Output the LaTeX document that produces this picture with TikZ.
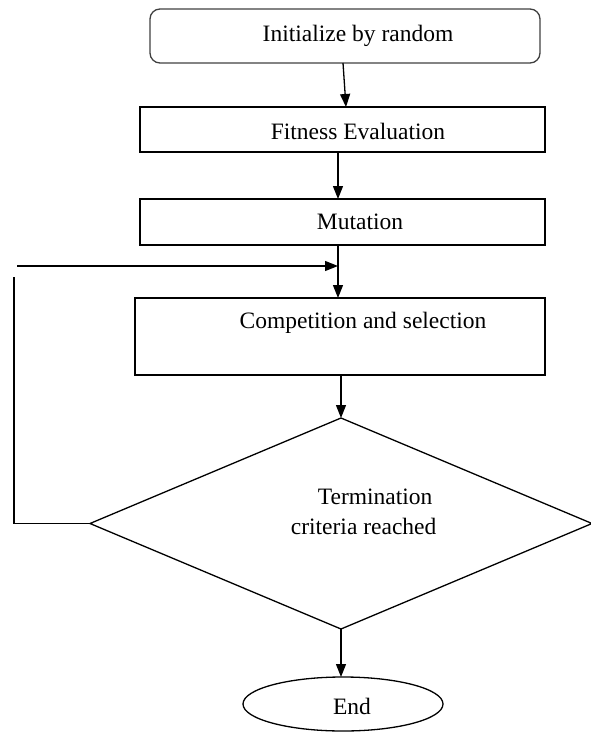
\documentclass[tikz,border=0pt]{standalone}
\usepackage{fontspec}
\setmainfont{Liberation Serif}
\usetikzlibrary{arrows.meta,shapes.geometric}
\begin{document}
\begin{tikzpicture}[x=1pt,y=-1pt,
  line width=1.3pt,
  font=\fontsize{23.5}{27}\selectfont,
  arr/.style={-{Triangle[length=13pt,width=10pt]}},
  shp/.style={draw,inner sep=0pt,outer sep=0pt},
  boxshape/.style={shp,rectangle},
  lbl/.style={inner sep=0pt}]
\useasboundingbox (0,0) rectangle (590,733);
% shapes
\node[boxshape,rounded corners=10pt,draw=black!75,minimum width=390pt,minimum height=54pt] (init) at (345,36) {};
\node[boxshape,minimum width=405pt,minimum height=45pt] (fit) at (342.5,129.5) {};
\node[boxshape,minimum width=405pt,minimum height=46pt] (mut) at (342.5,222) {};
\node[boxshape,minimum width=410pt,minimum height=77pt] (comp) at (340,336.5) {};
\node[shp,diamond,minimum width=502pt,minimum height=211pt] (dia) at (341,523.5) {};
\node[shp,ellipse,minimum width=200pt,minimum height=54pt] (end) at (343,704) {};
% labels
\node[lbl] (tinit) at (358,36) {Initialize by random};
\node[lbl] (tfit) at (358,131) {Fitness Evaluation};
\node[lbl] (tmut) at (360,222) {Mutation};
\node[lbl] (tcomp) at (363,323) {Competition and selection};
\node[lbl,anchor=east] (term1) at (433,497) {Termination};
\node[lbl,anchor=east] (term2) at (437,526) {criteria reached};
\node[lbl] (tend) at (352,706) {End};
% arrows
\draw[arr] ([xshift=-2pt]init.south) -- ([xshift=3.5pt]fit.north);
\draw[arr] ([xshift=-4.5pt]fit.south) -- ([xshift=-4.5pt]mut.north);
\draw[arr] ([xshift=-4.5pt]mut.south) -- ([xshift=-2pt]comp.north);
\draw[arr] ([xshift=1pt]comp.south) -- (dia.north);
\draw[arr] (dia.south) -- (dia.south |- end.north);
% loop
\coordinate (looptop) at (14,277);
\coordinate (loopstart) at (17,266);
\coordinate (join) at (338,266);
\draw (dia.west) -| (looptop);
\draw[arr] (loopstart) -- (join);
\end{tikzpicture}
\end{document}
